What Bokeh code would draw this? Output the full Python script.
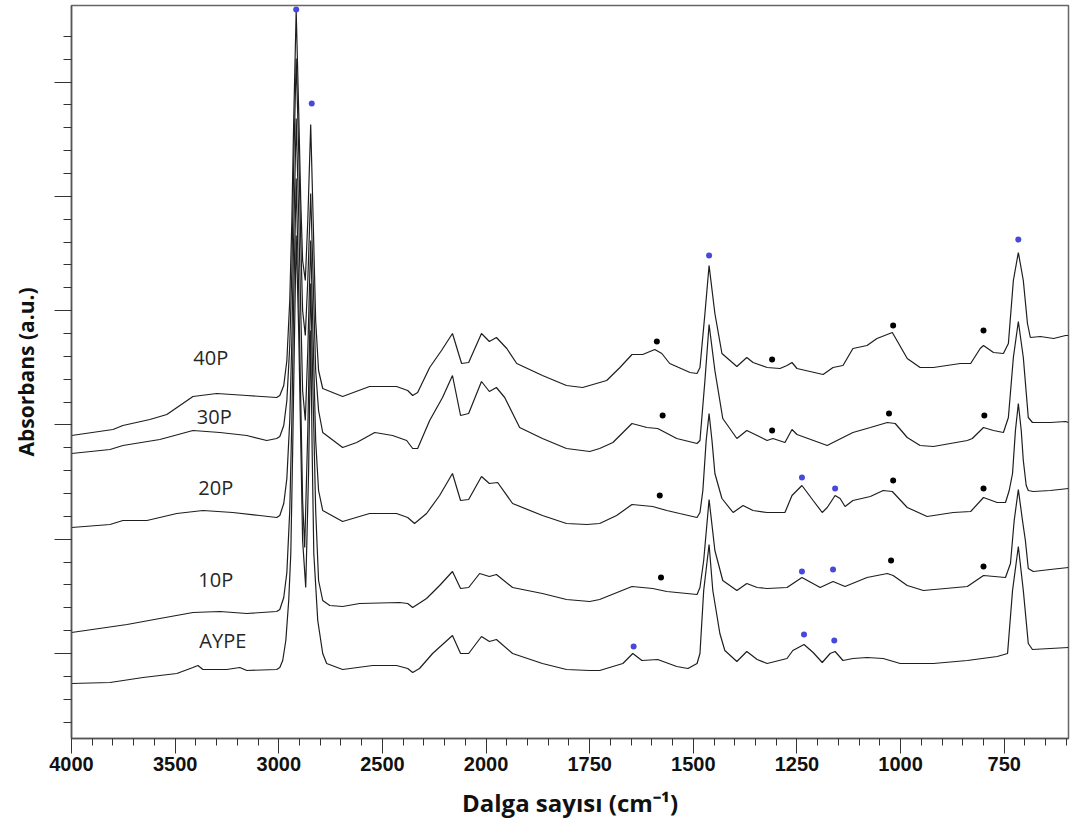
from bokeh.plotting import figure
from bokeh.models import Range1d, FixedTicker, ColumnDataSource
from bokeh.core.properties import value
from bokeh.embed import file_html
from bokeh.resources import INLINE

# ---------------- data (wavenumber cm-1, absorbance a.u.) -------------
wn_40P = [4000, 3800, 3752, 3622, 3540, 3414, 3299, 3154, 3010, 2995, 2976, 2961, 2947, 2937, 2928, 2916,
          2904, 2894, 2885, 2872, 2860, 2846, 2834, 2822, 2808, 2788, 2692, 2562, 2432, 2378, 2354, 2330,
          2272, 2215, 2162, 2118, 2084, 2022, 1992, 1975, 1950, 1926, 1864, 1806, 1767, 1709, 1677, 1648,
          1622, 1593, 1576, 1557, 1508, 1491, 1484, 1472, 1462, 1448, 1431, 1395, 1371, 1356, 1322, 1291,
          1274, 1262, 1250, 1187, 1163, 1139, 1115, 1081, 1057, 1020, 1013, 984, 953, 921, 856, 831, 808,
          800, 776, 752, 740, 728, 716, 704, 694, 687, 663, 631, 602, 595]
ab_40P = [3.03, 3.09, 3.13, 3.19, 3.24, 3.42, 3.45, 3.43, 3.41, 3.43, 3.53, 3.78, 4.38, 5.18, 6.18, 7.28,
          6.28, 5.38, 4.78, 4.58, 5.18, 6.14, 5.18, 4.18, 3.68, 3.50, 3.42, 3.52, 3.52, 3.48, 3.43, 3.46,
          3.71, 3.88, 4.05, 3.75, 3.76, 4.05, 3.97, 4.01, 3.90, 3.75, 3.63, 3.53, 3.51, 3.58, 3.71, 3.84,
          3.84, 3.89, 3.85, 3.75, 3.66, 3.65, 3.71, 4.25, 4.73, 4.25, 3.85, 3.72, 3.81, 3.76, 3.71, 3.70,
          3.73, 3.76, 3.70, 3.64, 3.71, 3.73, 3.90, 3.93, 4.00, 4.06, 4.01, 3.80, 3.71, 3.71, 3.75, 3.75, 3.90,
          3.93, 3.86, 3.85, 3.95, 4.58, 4.86, 4.58, 4.15, 4.01, 4.02, 4.00, 4.03, 4.03]

wn_30P = [4000, 3814, 3752, 3574, 3414, 3284, 3154, 3058, 3010, 2995, 2976, 2961, 2947, 2937, 2928, 2916,
          2904, 2894, 2885, 2872, 2860, 2846, 2834, 2822, 2808, 2788, 2692, 2624, 2537, 2451, 2383, 2354,
          2330, 2272, 2210, 2162, 2123, 2084, 2022, 1992, 1975, 1955, 1919, 1864, 1806, 1750, 1726, 1694,
          1648, 1612, 1586, 1540, 1491, 1484, 1472, 1462, 1448, 1429, 1395, 1371, 1346, 1322, 1308, 1279,
          1262, 1250, 1177, 1163, 1115, 1073, 1032, 1013, 984, 953, 921, 839, 827, 800, 776, 752, 740, 728,
          716, 704, 692, 682, 639, 602, 595]
ab_30P = [2.85, 2.89, 2.93, 2.99, 3.08, 3.06, 3.03, 2.98, 3.00, 3.02, 3.13, 3.38, 3.93, 4.68, 5.73, 6.80,
          5.88, 4.98, 4.28, 4.03, 4.58, 5.45, 4.58, 3.68, 3.28, 3.06, 2.91, 2.96, 3.06, 3.03, 2.98, 2.90,
          2.90, 3.18, 3.41, 3.63, 3.23, 3.25, 3.57, 3.47, 3.51, 3.41, 3.11, 3.00, 2.90, 2.87, 2.90, 2.96,
          3.15, 3.11, 3.10, 3.00, 2.95, 2.98, 3.58, 4.14, 3.68, 3.20, 3.00, 3.08, 3.03, 2.98, 3.00, 2.96,
          3.09, 3.04, 2.93, 2.96, 3.06, 3.11, 3.16, 3.15, 3.01, 2.93, 2.92, 2.98, 3.00, 3.11, 3.08, 3.06, 3.21, 3.81,
          4.17, 3.81, 3.21, 3.16, 3.16, 3.17, 3.16]

wn_20P = [4000, 3814, 3752, 3636, 3492, 3366, 3222, 3092, 3010, 2995, 2976, 2961, 2947, 2937, 2928, 2916,
          2904, 2894, 2885, 2872, 2860, 2846, 2834, 2822, 2808, 2788, 2692, 2562, 2432, 2378, 2345, 2287,
          2224, 2162, 2123, 2084, 2022, 1992, 1972, 1936, 1864, 1806, 1757, 1726, 1685, 1648, 1598, 1564,
          1533, 1491, 1484, 1477, 1469, 1462, 1455, 1448, 1431, 1404, 1380, 1356, 1322, 1279, 1262, 1238,
          1211, 1189, 1177, 1158, 1146, 1134, 1115, 1073, 1042, 1020, 984, 936, 873, 831, 800, 767, 747,
          738, 730, 723, 716, 709, 704, 697, 692, 680, 639, 595]
ab_20P = [2.11, 2.14, 2.18, 2.18, 2.25, 2.28, 2.26, 2.23, 2.21, 2.23, 2.35, 2.60, 3.18, 3.98, 5.03, 6.20,
          5.23, 4.28, 3.48, 3.18, 3.88, 4.98, 3.98, 2.98, 2.48, 2.28, 2.17, 2.25, 2.25, 2.21, 2.15, 2.25,
          2.43, 2.65, 2.38, 2.39, 2.62, 2.55, 2.56, 2.35, 2.23, 2.15, 2.14, 2.15, 2.23, 2.34, 2.32, 2.28,
          2.25, 2.21, 2.26, 2.48, 2.98, 3.25, 2.98, 2.65, 2.40, 2.26, 2.33, 2.28, 2.26, 2.26, 2.43, 2.53,
          2.38, 2.26, 2.31, 2.43, 2.40, 2.32, 2.38, 2.42, 2.48, 2.47, 2.31, 2.22, 2.26, 2.27, 2.41, 2.36, 2.36,
          2.48, 2.65, 3.08, 3.35, 3.08, 2.78, 2.53, 2.48, 2.47, 2.48, 2.50]

wn_10P = [4000, 3732, 3574, 3414, 3284, 3154, 3010, 2995, 2976, 2961, 2947, 2937, 2928, 2916, 2904, 2894,
          2885, 2875, 2860, 2846, 2834, 2822, 2808, 2788, 2754, 2692, 2610, 2417, 2378, 2354, 2287, 2224,
          2162, 2123, 2084, 2031, 1992, 1975, 1936, 1864, 1806, 1750, 1726, 1648, 1598, 1564, 1491, 1484,
          1475, 1462, 1448, 1429, 1395, 1371, 1346, 1322, 1274, 1238, 1194, 1163, 1134, 1081, 1032, 1018,
          984, 945, 839, 800, 747, 735, 726, 716, 706, 699, 692, 680, 639, 595]
ab_10P = [1.06, 1.14, 1.20, 1.26, 1.27, 1.25, 1.27, 1.29, 1.41, 1.66, 2.28, 3.18, 4.38, 5.60, 4.48, 3.38,
          2.38, 1.91, 3.08, 4.55, 3.38, 2.28, 1.58, 1.38, 1.33, 1.32, 1.35, 1.36, 1.35, 1.31, 1.40, 1.53,
          1.67, 1.50, 1.51, 1.65, 1.62, 1.64, 1.51, 1.45, 1.39, 1.37, 1.39, 1.52, 1.50, 1.47, 1.44, 1.51,
          1.78, 2.39, 1.88, 1.58, 1.48, 1.55, 1.51, 1.50, 1.51, 1.61, 1.51, 1.57, 1.52, 1.61, 1.65, 1.63,
          1.53, 1.48, 1.52, 1.63, 1.61, 1.75, 2.18, 2.49, 2.18, 1.98, 1.70, 1.67, 1.69, 1.71]

wn_AYPE = [4000, 3814, 3655, 3492, 3414, 3390, 3366, 3251, 3188, 3154, 3010, 2995, 2981, 2966, 2952, 2942,
           2933, 2923, 2916, 2904, 2894, 2885, 2870, 2856, 2846, 2839, 2831, 2812, 2788, 2769, 2692, 2547,
           2432, 2378, 2354, 2321, 2258, 2162, 2123, 2084, 2022, 1992, 1975, 1936, 1864, 1806, 1750, 1726,
           1670, 1646, 1624, 1586, 1540, 1513, 1491, 1484, 1475, 1462, 1453, 1436, 1424, 1395, 1371, 1346,
           1322, 1274, 1260, 1233, 1211, 1189, 1170, 1158, 1139, 1115, 1081, 1042, 1001, 921, 839, 767, 742,
           730, 716, 704, 692, 682, 639, 595]
ab_AYPE = [0.55, 0.56, 0.61, 0.65, 0.71, 0.73, 0.69, 0.69, 0.71, 0.68, 0.69, 0.71, 0.78, 0.98, 1.38, 1.85,
           2.88, 4.18, 5.03, 4.08, 2.98, 1.98, 1.51, 2.68, 4.08, 2.88, 1.85, 1.18, 0.85, 0.75, 0.69, 0.73,
           0.73, 0.70, 0.66, 0.70, 0.85, 1.03, 0.85, 0.85, 1.02, 0.97, 0.99, 0.85, 0.75, 0.69, 0.68, 0.68,
           0.75, 0.85, 0.78, 0.79, 0.72, 0.70, 0.75, 0.85, 1.48, 1.94, 1.48, 1.05, 0.88, 0.77, 0.87, 0.79,
           0.75, 0.80, 0.88, 0.94, 0.86, 0.76, 0.85, 0.87, 0.78, 0.80, 0.81, 0.80, 0.75, 0.75, 0.78, 0.82, 0.85,
           1.48, 1.92, 1.48, 0.95, 0.89, 0.90, 0.91]

series_names = ["40P", "30P", "20P", "10P", "AYPE"]
series_wn = [wn_40P, wn_30P, wn_20P, wn_10P, wn_AYPE]
series_ab = [ab_40P, ab_30P, ab_20P, ab_10P, ab_AYPE]
label_wn = [3328, 3311, 3304, 3304, 3270]
label_ab = [3.81, 3.22, 2.51, 1.59, 0.98]

# marked bands
blue_wn = [2916, 2841, 1462, 716, 1238, 1158, 1238, 1163, 1644, 1233, 1160]
blue_ab = [7.29, 6.35, 4.83, 4.99, 2.61, 2.50, 1.67, 1.69, 0.92, 1.04, 0.98]
black_wn = [1588, 1310, 1018, 800, 1574, 1310, 1028, 798, 1581, 1018, 800, 1578, 1023, 800]
black_ab = [3.97, 3.79, 4.13, 4.08, 3.23, 3.08, 3.25, 3.23, 2.43, 2.58, 2.50, 1.61, 1.78, 1.72]

x_tick_wn = [4000, 3500, 3000, 2500, 2000, 1750, 1500, 1250, 1000, 750]
x_min_wn = 595


# ---------------- axis with scale change at 2000 cm-1 ----------------
def to_axis(wn):
    return 4000 - wn if wn >= 2000 else 2000 + 2 * (2000 - wn)


p = figure(width=1076, height=832, output_backend="svg", toolbar_location=None,
           min_border_left=71, min_border_right=8, min_border_top=5, min_border_bottom=94,
           x_range=Range1d(0, to_axis(x_min_wn)), y_range=Range1d(0, 7.33))
p.xgrid.visible = False
p.ygrid.visible = False
p.outline_line_color = "#666666"
p.outline_line_width = 1.5
p.background_fill_color = "white"
p.border_fill_color = "white"

for wn, ab in zip(series_wn, series_ab):
    p.line([to_axis(w) for w in wn], ab, line_color="#1e1e1e", line_width=1.2)

p.scatter([to_axis(w) for w in blue_wn], blue_ab, size=6, fill_color="#4848dc", line_color=None)
p.scatter([to_axis(w) for w in black_wn], black_ab, size=6, fill_color="#000000", line_color=None)

src = ColumnDataSource(dict(x=[to_axis(w) for w in label_wn], y=label_ab, t=series_names))
p.text(x="x", y="y", text="t", source=src, text_font=value("Open Sans"), text_font_size="20px",
       text_color="#262626", text_align="center", text_baseline="middle")

# x axis
xa = p.xaxis[0]
xa.ticker = FixedTicker(ticks=[to_axis(w) for w in x_tick_wn],
                        minor_ticks=list(range(0, int(to_axis(x_min_wn)) + 1, 100)))
xa.major_label_overrides = {to_axis(w): str(w) for w in x_tick_wn}
xa.axis_label = "Dalga sayısı (cm⁻¹)"
xa.axis_label_text_font = "Open Sans"
xa.axis_label_text_font_style = "bold"
xa.axis_label_text_font_size = "24px"
xa.axis_label_text_color = "#111111"
xa.axis_label_standoff = 12
xa.major_label_text_font = "Liberation Sans"
xa.major_label_text_font_style = "bold"
xa.major_label_text_font_size = "20px"
xa.major_label_text_color = "#111111"
xa.major_label_standoff = 3
xa.major_tick_out = 15
xa.major_tick_in = 0
xa.minor_tick_out = 7
xa.minor_tick_in = 0
xa.axis_line_color = "#555555"
xa.axis_line_width = 1.5
xa.major_tick_line_color = "#333333"
xa.minor_tick_line_color = "#333333"

# y axis (ticks only, no numbers drawn)
ya = p.yaxis[0]
y_major = [round(0.85 + 1.143 * k, 3) for k in range(6)]
y_minor = [round(0.85 + 0.2286 * k, 4) for k in range(-3, 28)]
y_minor = [v for v in y_minor if 0 < v < 7.33]
ya.ticker = FixedTicker(ticks=y_major, minor_ticks=y_minor)
ya.major_label_text_font_size = "0px"
ya.major_label_text_color = None
ya.major_label_standoff = 0
ya.axis_label = "Absorbans (a.u.)"
ya.axis_label_text_font = "Open Sans"
ya.axis_label_text_font_style = "bold"
ya.axis_label_text_font_size = "21px"
ya.axis_label_text_color = "#111111"
ya.axis_label_standoff = 15
ya.major_tick_out = 17
ya.major_tick_in = 0
ya.minor_tick_out = 8
ya.minor_tick_in = 0
ya.axis_line_color = "#555555"
ya.axis_line_width = 1.5
ya.major_tick_line_color = "#333333"
ya.minor_tick_line_color = "#333333"

open("out.html", "w").write(file_html(p, INLINE))
